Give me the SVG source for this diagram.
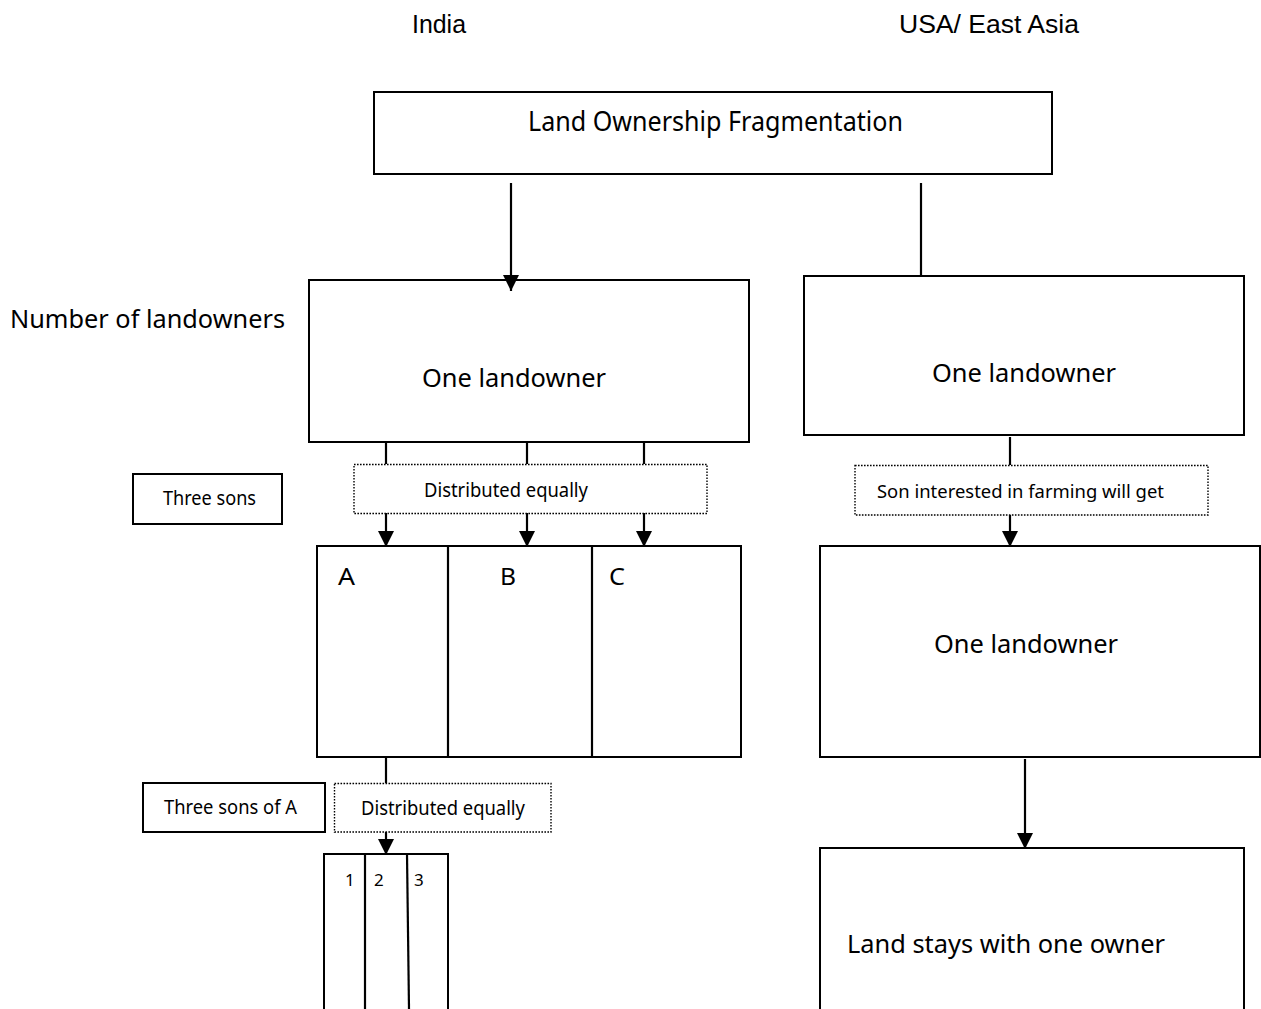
<svg xmlns="http://www.w3.org/2000/svg" width="1261" height="1009" viewBox="0 0 1261 1009">
<style>
.box{fill:#fff;stroke:#000;stroke-width:2}
.dot{fill:#fff;stroke:#000;stroke-width:1.4;stroke-dasharray:1.6 1.4}
.ln{stroke:#000;stroke-width:2.2;fill:none}
.t{font-family:"Noto Sans","Open Sans","DejaVu Sans",sans-serif;fill:#000}
.h{font-family:"Liberation Sans",Arial,sans-serif;fill:#000;font-size:25px}
</style>
<defs>
<marker id="ah" markerUnits="userSpaceOnUse" markerWidth="16" markerHeight="18" refX="16" refY="8" orient="auto">
<path d="M0,0 L16,8 L0,16 Z" fill="#000"/>
</marker>
</defs>
<rect width="1261" height="1009" fill="#fff"/>
<g id="headers">
<text class="h" x="412" y="33" textLength="54" lengthAdjust="spacingAndGlyphs">India</text>
<text class="h" x="899" y="33" textLength="180" lengthAdjust="spacingAndGlyphs">USA/ East Asia</text>
</g>
<g id="n-top">
<rect class="box" x="374" y="92" width="678" height="82"/>
<text class="t" x="528" y="131" font-size="28" textLength="375" lengthAdjust="spacingAndGlyphs">Land Ownership Fragmentation</text>
</g>
<g id="n-label-number">
<text class="t" x="10" y="328" font-size="25" textLength="275" lengthAdjust="spacingAndGlyphs">Number of landowners</text>
</g>
<g id="n-india-owner">
<rect class="box" x="309" y="280" width="440" height="162"/>
<text class="t" x="422" y="387" font-size="26" textLength="184" lengthAdjust="spacingAndGlyphs">One landowner</text>
</g>
<g id="n-usa-owner">
<rect class="box" x="804" y="276" width="440" height="159"/>
<text class="t" x="932" y="382" font-size="26" textLength="184" lengthAdjust="spacingAndGlyphs">One landowner</text>
</g>
<g id="n-three-sons">
<rect class="box" x="133" y="474" width="149" height="50"/>
<text class="t" x="163" y="505" font-size="19" textLength="93" lengthAdjust="spacingAndGlyphs">Three sons</text>
</g>
<g id="n-dist1">
<rect class="dot" x="354" y="464.5" width="353" height="49"/>
<text class="t" x="424" y="497" font-size="19" textLength="164" lengthAdjust="spacingAndGlyphs">Distributed equally</text>
</g>
<g id="n-son-interested">
<rect class="dot" x="855" y="465.5" width="353" height="49.5"/>
<text class="t" x="877" y="498" font-size="18.5" textLength="287" lengthAdjust="spacingAndGlyphs">Son interested in farming will get</text>
</g>
<g id="n-abc">
<rect class="box" x="317" y="546" width="424" height="211"/>
<line class="ln" x1="448" y1="546" x2="448" y2="757"/>
<line class="ln" x1="592" y1="546" x2="592" y2="757"/>
<text class="t" x="338" y="585" font-size="24" textLength="17" lengthAdjust="spacingAndGlyphs">A</text>
<text class="t" x="500" y="585" font-size="24" textLength="16" lengthAdjust="spacingAndGlyphs">B</text>
<text class="t" x="609" y="585" font-size="24" textLength="16" lengthAdjust="spacingAndGlyphs">C</text>
</g>
<g id="n-usa-owner2">
<rect class="box" x="820" y="546" width="440" height="211"/>
<text class="t" x="934" y="653" font-size="26" textLength="184" lengthAdjust="spacingAndGlyphs">One landowner</text>
</g>
<g id="n-three-sons-a">
<rect class="box" x="143" y="783" width="182" height="49"/>
<text class="t" x="164" y="814" font-size="19" textLength="133" lengthAdjust="spacingAndGlyphs">Three sons of A</text>
</g>
<g id="n-dist2">
<rect class="dot" x="334.5" y="783.5" width="216.5" height="48.5"/>
<text class="t" x="361" y="815" font-size="19" textLength="164" lengthAdjust="spacingAndGlyphs">Distributed equally</text>
</g>
<g id="n-123">
<rect class="box" x="324" y="854" width="124" height="170"/>
<line class="ln" x1="365" y1="854" x2="365" y2="1009"/>
<line class="ln" x1="407" y1="854" x2="409" y2="1009"/>
<text class="t" x="345" y="886" font-size="17">1</text>
<text class="t" x="374" y="886" font-size="17">2</text>
<text class="t" x="414" y="886" font-size="17">3</text>
</g>
<g id="n-land-stays">
<rect class="box" x="820" y="848" width="424" height="180"/>
<text class="t" x="847" y="953" font-size="26" textLength="318" lengthAdjust="spacingAndGlyphs">Land stays with one owner</text>
</g>
<g id="connectors">
<line class="ln" x1="511" y1="183" x2="511" y2="291" marker-end="url(#ah)"/>
<line class="ln" x1="921" y1="183" x2="921" y2="276"/>
<line class="ln" x1="386" y1="442" x2="386" y2="464"/>
<line class="ln" x1="527" y1="442" x2="527" y2="464"/>
<line class="ln" x1="644" y1="442" x2="644" y2="464"/>
<line class="ln" x1="386" y1="513" x2="386" y2="547" marker-end="url(#ah)"/>
<line class="ln" x1="527" y1="513" x2="527" y2="547" marker-end="url(#ah)"/>
<line class="ln" x1="644" y1="513" x2="644" y2="547" marker-end="url(#ah)"/>
<line class="ln" x1="1010" y1="437" x2="1010" y2="465"/>
<line class="ln" x1="1010" y1="515" x2="1010" y2="547" marker-end="url(#ah)"/>
<line class="ln" x1="1025" y1="759" x2="1025" y2="849" marker-end="url(#ah)"/>
<line class="ln" x1="386" y1="757" x2="386" y2="783"/>
<line class="ln" x1="386" y1="832" x2="386" y2="855" marker-end="url(#ah)"/>
</g>
</svg>
